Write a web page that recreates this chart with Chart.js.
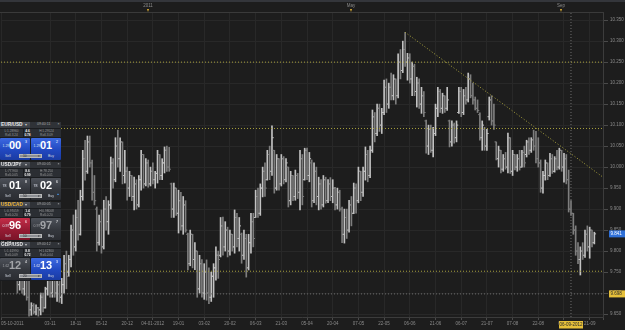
<!DOCTYPE html>
<html>
<head>
<meta charset="utf-8">
<script src="https://cdn.jsdelivr.net/npm/chart.js@4.4.1/dist/chart.umd.min.js"></script>
<style>
html, body { margin: 0; padding: 0; background: #1d1d1d; }
#wrap { position: relative; width: 625px; height: 330px; overflow: hidden; background: #1d1d1d; font-family: "Liberation Sans", Arial, sans-serif; }
#box { position: absolute; left: 0; top: 0; width: 625px; height: 330px; }
.strip { position: absolute; left: 0; top: 0; width: 625px; height: 2px; background: #34363b; }
.rule { position: absolute; left: 0; top: 12px; width: 604px; height: 1px; background: #3a3a3a; }
.tlab { position: absolute; top: 3px; font-size: 4.5px; line-height: 5px; color: #8a8a8a; transform: translateX(-50%); }
.tri { position: absolute; top: 9px; width: 0; height: 0; border-left: 1.6px solid transparent; border-right: 1.6px solid transparent; border-top: 3px solid #e2b232; transform: translateX(-50%); }

.w { position: absolute; left: 0; width: 61px; height: 39px; background: #1a1c1f; overflow: hidden; }
.hd { position: absolute; left: 0; top: 0; width: 61px; height: 6.5px; background: linear-gradient(#51555d, #383b41); }
.nm { position: absolute; left: 1px; top: 0; font-size: 4.8px; line-height: 6.5px; color: #e6e6e6; font-weight: bold; }
.dd { position: absolute; left: 24.5px; top: 0; font-size: 4px; line-height: 6.5px; color: #c8c8c8; }
.tm { position: absolute; left: 30px; top: 0.5px; width: 30.5px; height: 5.5px; background: #2f3237; font-size: 3.5px; line-height: 5.5px; color: #a8a8a8; text-indent: 7px; }
.tm i { position: absolute; right: 1px; top: 0; font-style: normal; color: #c0c0c0; }
.r { position: absolute; left: 0; width: 61px; height: 4.2px; font-size: 3.2px; line-height: 4.2px; color: #9a9a9a; }
.r span { position: absolute; top: 0; height: 100%; background: #2b2e33; text-align: center; }
.r .c1 { left: 0; width: 23px; }
.r .c2 { left: 23.5px; width: 8px; color: #f0f0f0; font-weight: bold; }
.r .c3 { left: 32px; width: 29px; }
.r1 { top: 7px; }
.r2 { top: 11.6px; }
.b { position: absolute; top: 16.5px; height: 22px; width: 29.8px; border-radius: 1px; }
.bl { left: 0; }
.br { left: 31px; }
.blue { background: linear-gradient(#3d6ae2, #2148c0 55%, #1a3ba2); }
.gray { background: linear-gradient(#4d5159, #34373d 55%, #2b2d32); }
.red { background: linear-gradient(#c42d48, #951b33 55%, #7a1428); }
.p { position: absolute; left: 2.5px; top: 6px; font-size: 3.5px; line-height: 4px; color: #dfe3ee; }
.n { position: absolute; left: 9px; top: 1.5px; font-size: 11px; line-height: 11px; font-weight: bold; color: #ffffff; }
.dim .n { color: #a2a4a8; }
.dim .p { color: #a2a4a8; }
.e { position: absolute; left: 25px; top: 2px; font-size: 3.5px; line-height: 4px; color: #ffffff; }
.s { position: absolute; top: 15.5px; font-size: 3.5px; line-height: 4px; color: #cfd4de; }
.bl .s { left: 5px; }
.br .s { left: 17px; }
.q { position: absolute; left: 19px; top: 32px; width: 23px; height: 4.5px; background: #8c8f94; border: 0.5px solid #b8b8b8; box-sizing: border-box; font-size: 3.3px; line-height: 3.8px; color: #2a2a2a; text-indent: 3px; }
.q i { position: absolute; right: 1.5px; top: 0; font-style: normal; }
.up { position: absolute; left: 25.5px; top: 14px; font-size: 3px; color: #4aa0ff; }
</style>
</head>
<body>
<div id="wrap">
  <div id="box"><canvas id="makeChart"></canvas></div>

  <div class="strip"></div>
  <div class="rule"></div>
  <div class="tlab" style="left:148px">2011</div>
  <div class="tlab" style="left:351px">May</div>
  <div class="tlab" style="left:561px">Sep</div>
  <div class="tri" style="left:148px"></div>
  <div class="tri" style="left:351px"></div>
  <div class="tri" style="left:561px"></div>

  <div class="w" style="top:121.5px">
    <div class="hd"><span class="nm">EUR/USD</span><span class="dd">▾</span><div class="tm">09:40:11<i>×</i></div></div>
    <div class="r r1"><span class="c1">L:1.28960</span><span class="c2">4.6</span><span class="c3">H:1.29524</span></div>
    <div class="r r2"><span class="c1">Roll-3.24</span><span class="c2">0.78</span><span class="c3">Roll-3.09</span></div>
    <div class="b bl blue"><span class="p">1.29</span><span class="n">00</span><span class="e">3</span><span class="s">Sell</span></div>
    <div class="b br blue"><span class="p">1.29</span><span class="n">01</span><span class="e">2</span><span class="s">Buy</span></div>
    <div class="q">10<i>▾</i></div>
  </div>

  <div class="w" style="top:161.5px">
    <div class="hd"><span class="nm">USD/JPY</span><span class="dd">▾</span><div class="tm">09:40:05<i>×</i></div></div>
    <div class="r r1"><span class="c1">L:77.960</span><span class="c2">8.6</span><span class="c3">H:78.250</span></div>
    <div class="r r2"><span class="c1">Roll-0.05</span><span class="c2">0.99</span><span class="c3">Roll-0.01</span></div>
    <div class="b bl gray"><span class="p">78</span><span class="n">01</span><span class="e">8</span><span class="s">Sell</span></div>
    <div class="b br gray"><span class="p">78</span><span class="n">02</span><span class="e">6</span><span class="up">▲</span><span class="s">Buy</span></div>
    <div class="q">50<i>▾</i></div>
  </div>

  <div class="w" style="top:201.5px">
    <div class="hd"><span class="nm" style="color:#f0b232">USD/CAD</span><span class="dd">▾</span><div class="tm">09:40:05<i>×</i></div></div>
    <div class="r r1"><span class="c1">L:0.97059</span><span class="c2">1.4</span><span class="c3">H:0.98008</span></div>
    <div class="r r2"><span class="c1">Roll-0.20</span><span class="c2">0.79</span><span class="c3">Roll-0.20</span></div>
    <div class="b bl red"><span class="p">0.97</span><span class="n">96</span><span class="e">6</span><span class="s">Sell</span></div>
    <div class="b br gray dim"><span class="p">0.97</span><span class="n">97</span><span class="e">7</span><span class="s">Buy</span></div>
    <div class="q">10<i>▾</i></div>
  </div>

  <div class="w" style="top:241.5px">
    <div class="hd"><span class="nm">GBP/USD</span><span class="dd">▾</span><div class="tm">09:40:12<i>×</i></div></div>
    <div class="r r1"><span class="c1">L:1.61990</span><span class="c2">8.8</span><span class="c3">H:1.62360</span></div>
    <div class="r r2"><span class="c1">Roll-0.09</span><span class="c2">0.72</span><span class="c3">Roll-0.04</span></div>
    <div class="b bl gray dim"><span class="p">1.62</span><span class="n">12</span><span class="e">4</span><span class="s">Sell</span></div>
    <div class="b br blue"><span class="p">1.62</span><span class="n">13</span><span class="e">3</span><span class="s">Buy</span></div>
    <div class="q">20<i>▾</i></div>
  </div>
</div>

<script>
// daily bars, 05-10-2011 .. 21-09-2012
const opens = [
  9.83, 9.81, 9.79, 9.80, 9.79, 9.77, 9.75, 9.76, 9.72, 9.75,
  9.71, 9.73, 9.69, 9.66, 9.67, 9.655, 9.665, 9.66, 9.69, 9.665,
  9.71, 9.73, 9.70, 9.74, 9.70, 9.72, 9.69, 9.72, 9.77, 9.75,
  9.78, 9.85, 9.81, 9.88, 9.84, 9.93, 10.02, 9.99, 10.06, 10.01,
  9.94, 9.90, 9.82, 9.87, 9.81, 9.90, 9.87, 9.91, 10.01, 9.97,
  10.05, 10.02, 10.06, 9.98, 9.99, 9.95, 9.98, 9.93, 9.96, 9.91,
  9.97, 10.03, 9.96, 10.01, 9.96, 9.99, 9.97, 9.985, 10.03, 9.98,
  10.01, 10.04, 10.00, 9.96, 9.90, 9.95, 9.89, 9.92, 9.86, 9.91,
  9.84, 9.77, 9.84, 9.78, 9.80, 9.71, 9.77, 9.70, 9.75, 9.70,
  9.69, 9.74, 9.76, 9.79, 9.79, 9.86, 9.81, 9.85, 9.80, 9.84,
  9.81, 9.88, 9.83, 9.84, 9.79, 9.83, 9.76, 9.82, 9.87, 9.88,
  9.93, 9.89, 9.95, 9.99, 9.97, 10.03, 9.99, 10.04, 9.95, 10.02,
  9.96, 10.02, 9.97, 10.00, 9.92, 9.98, 9.93, 9.98, 9.94, 10.02,
  9.97, 10.04, 9.98, 10.01, 9.92, 9.99, 9.93, 9.96, 9.91, 9.97,
  9.92, 9.96, 9.93, 9.95, 9.91, 9.94, 9.90, 9.84, 9.88, 9.85,
  9.91, 9.89, 9.95, 9.92, 9.99, 9.94, 9.99, 10.03, 9.98, 10.04,
  10.12, 10.08, 10.14, 10.10, 10.13, 10.19, 10.15, 10.19, 10.17, 10.21,
  10.17, 10.25, 10.23, 10.28, 10.25, 10.26, 10.21, 10.24, 10.18, 10.20,
  10.15, 10.17, 10.11, 10.05, 10.09, 10.04, 10.08, 10.14, 10.18, 10.14,
  10.17, 10.14, 10.11, 10.06, 10.10, 10.07, 10.13, 10.18, 10.13, 10.17,
  10.16, 10.21, 10.17, 10.16, 10.14, 10.125, 10.07, 10.09, 10.05, 10.12,
  10.16, 10.11, 10.06, 10.02, 10.04, 9.995, 10.02, 10.00, 10.07, 9.99,
  10.03, 10.00, 10.02, 10.00, 10.035, 10.03, 10.06, 10.04, 10.065, 10.05,
  10.02, 10.01, 9.95, 9.98, 10.01, 9.98, 10.02, 9.99, 10.02, 10.00,
  10.04, 10.00, 10.02, 9.97, 9.90, 9.89, 9.85, 9.80, 9.78, 9.80,
  9.79, 9.84, 9.81, 9.85, 9.82
];
const highs = [
  9.86, 9.84, 9.82, 9.84, 9.83, 9.80, 9.79, 9.76, 9.77, 9.76,
  9.75, 9.74, 9.73, 9.677, 9.675, 9.672, 9.666, 9.70, 9.70, 9.714,
  9.74, 9.75, 9.76, 9.75, 9.74, 9.73, 9.735, 9.79, 9.80, 9.79,
  9.862, 9.886, 9.898, 9.921, 9.945, 10.04, 10.064, 10.074, 10.074, 10.017,
  9.98, 9.905, 9.886, 9.898, 9.921, 9.93, 9.92, 10.024, 10.02, 10.07,
  10.088, 10.07, 10.06, 10.04, 10.00, 9.99, 9.98, 9.976, 9.97, 9.98,
  10.04, 10.03, 10.02, 10.017, 10.00, 10.01, 9.99, 10.04, 10.03, 10.02,
  10.048, 10.05, 10.047, 9.962, 9.962, 9.95, 9.945, 9.94, 9.93, 9.92,
  9.843, 9.85, 9.84, 9.82, 9.80, 9.79, 9.78, 9.77, 9.779, 9.76,
  9.75, 9.77, 9.81, 9.80, 9.88, 9.881, 9.87, 9.857, 9.85, 9.84,
  9.898, 9.89, 9.88, 9.843, 9.85, 9.84, 9.84, 9.89, 9.89, 9.945,
  9.95, 9.96, 10.00, 10.01, 10.04, 10.05, 10.098, 10.04, 10.03, 10.02,
  10.03, 10.025, 10.02, 10.00, 9.99, 9.98, 9.993, 9.985, 10.04, 10.03,
  10.045, 10.045, 10.035, 10.017, 10.01, 10.00, 9.976, 9.97, 9.98, 9.976,
  9.97, 9.975, 9.97, 9.952, 9.95, 9.945, 9.905, 9.90, 9.90, 9.921,
  9.93, 9.962, 9.96, 10.00, 9.99, 10.00, 10.048, 10.04, 10.05, 10.136,
  10.13, 10.15, 10.15, 10.14, 10.207, 10.21, 10.20, 10.224, 10.22, 10.21,
  10.27, 10.28, 10.30, 10.321, 10.271, 10.27, 10.25, 10.245, 10.214, 10.21,
  10.19, 10.18, 10.112, 10.10, 10.10, 10.095, 10.15, 10.19, 10.185, 10.176,
  10.17, 10.19, 10.112, 10.11, 10.105, 10.11, 10.19, 10.19, 10.185, 10.19,
  10.224, 10.22, 10.20, 10.167, 10.16, 10.129, 10.11, 10.095, 10.09, 10.167,
  10.17, 10.15, 10.06, 10.05, 10.04, 10.03, 10.035, 10.081, 10.07, 10.04,
  10.03, 10.03, 10.04, 10.04, 10.05, 10.064, 10.07, 10.07, 10.088, 10.085,
  10.07, 10.017, 9.99, 10.017, 10.01, 10.033, 10.03, 10.025, 10.04, 10.045,
  10.04, 10.033, 10.03, 9.993, 9.92, 9.89, 9.86, 9.82, 9.81, 9.82,
  9.85, 9.86, 9.857, 9.85, 9.845
];
const lows = [
  9.80, 9.78, 9.77, 9.78, 9.76, 9.74, 9.73, 9.70, 9.707, 9.70,
  9.695, 9.683, 9.645, 9.647, 9.650, 9.648, 9.645, 9.648, 9.655, 9.664,
  9.695, 9.69, 9.69, 9.69, 9.68, 9.678, 9.675, 9.70, 9.71, 9.74,
  9.762, 9.79, 9.80, 9.826, 9.838, 9.921, 9.969, 9.985, 10.00, 9.921,
  9.91, 9.80, 9.814, 9.795, 9.805, 9.85, 9.84, 9.90, 9.95, 9.965,
  10.00, 9.99, 9.96, 9.962, 9.921, 9.93, 9.92, 9.898, 9.90, 9.905,
  9.945, 9.95, 9.955, 9.952, 9.955, 9.96, 9.95, 9.962, 9.97, 9.97,
  9.986, 9.99, 9.99, 9.88, 9.88, 9.885, 9.843, 9.85, 9.84, 9.845,
  9.755, 9.765, 9.76, 9.756, 9.69, 9.70, 9.69, 9.685, 9.683, 9.675,
  9.68, 9.69, 9.731, 9.735, 9.786, 9.79, 9.80, 9.786, 9.79, 9.80,
  9.795, 9.81, 9.80, 9.771, 9.78, 9.738, 9.755, 9.795, 9.81, 9.88,
  9.88, 9.885, 9.929, 9.93, 9.969, 9.97, 9.98, 9.938, 9.945, 9.945,
  9.955, 9.96, 9.965, 9.905, 9.91, 9.92, 9.921, 9.925, 9.898, 9.91,
  9.969, 9.97, 9.965, 9.905, 9.915, 9.91, 9.898, 9.90, 9.905, 9.914,
  9.915, 9.92, 9.915, 9.898, 9.90, 9.895, 9.82, 9.819, 9.83, 9.845,
  9.86, 9.889, 9.89, 9.915, 9.92, 9.93, 9.969, 9.965, 9.975, 10.035,
  10.06, 10.075, 10.085, 10.08, 10.125, 10.13, 10.14, 10.16, 10.16, 10.15,
  10.165, 10.21, 10.225, 10.24, 10.207, 10.20, 10.17, 10.17, 10.143, 10.14,
  10.128, 10.12, 10.033, 10.03, 10.035, 10.024, 10.075, 10.12, 10.13, 10.128,
  10.13, 10.135, 10.048, 10.05, 10.057, 10.06, 10.128, 10.12, 10.125, 10.15,
  10.155, 10.165, 10.15, 10.136, 10.13, 10.064, 10.04, 10.04, 10.04, 10.112,
  10.10, 10.09, 10.017, 10.00, 9.986, 9.99, 9.995, 9.986, 9.985, 9.98,
  9.993, 9.99, 9.993, 10.00, 10.00, 10.024, 10.03, 10.035, 10.04, 10.01,
  10.00, 9.94, 9.938, 9.969, 9.97, 9.978, 9.985, 9.988, 9.993, 9.995,
  9.99, 9.964, 9.96, 9.893, 9.885, 9.84, 9.79, 9.77, 9.743, 9.78,
  9.785, 9.80, 9.783, 9.81, 9.817
];
const closes = [
  9.81, 9.79, 9.80, 9.79, 9.77, 9.75, 9.76, 9.72, 9.75, 9.71,
  9.73, 9.69, 9.66, 9.67, 9.655, 9.665, 9.66, 9.69, 9.665, 9.71,
  9.73, 9.70, 9.74, 9.70, 9.72, 9.69, 9.72, 9.77, 9.74, 9.78,
  9.85, 9.81, 9.88, 9.84, 9.93, 10.02, 9.99, 10.06, 10.01, 9.94,
  9.92, 9.82, 9.87, 9.81, 9.90, 9.87, 9.91, 10.01, 9.97, 10.05,
  10.02, 10.06, 9.98, 9.99, 9.95, 9.98, 9.93, 9.96, 9.91, 9.97,
  10.03, 9.96, 10.01, 9.96, 9.99, 9.97, 9.985, 10.03, 9.98, 10.01,
  10.04, 10.00, 9.995, 9.90, 9.95, 9.89, 9.92, 9.86, 9.91, 9.85,
  9.77, 9.84, 9.78, 9.80, 9.71, 9.77, 9.70, 9.75, 9.70, 9.69,
  9.74, 9.76, 9.79, 9.78, 9.86, 9.81, 9.85, 9.80, 9.84, 9.81,
  9.88, 9.83, 9.86, 9.79, 9.83, 9.76, 9.82, 9.87, 9.83, 9.93,
  9.89, 9.95, 9.99, 9.95, 10.03, 9.99, 10.07, 9.95, 10.02, 9.96,
  10.02, 9.97, 10.01, 9.92, 9.98, 9.93, 9.98, 9.94, 10.02, 9.93,
  10.04, 9.98, 10.02, 9.92, 9.99, 9.93, 9.96, 9.91, 9.97, 9.92,
  9.96, 9.93, 9.95, 9.91, 9.94, 9.90, 9.84, 9.88, 9.85, 9.91,
  9.89, 9.95, 9.92, 9.99, 9.94, 9.99, 10.03, 9.98, 10.04, 10.12,
  10.08, 10.14, 10.10, 10.13, 10.19, 10.15, 10.19, 10.17, 10.21, 10.17,
  10.25, 10.23, 10.28, 10.25, 10.26, 10.21, 10.24, 10.18, 10.20, 10.15,
  10.17, 10.13, 10.05, 10.09, 10.04, 10.08, 10.14, 10.18, 10.14, 10.17,
  10.14, 10.16, 10.06, 10.10, 10.07, 10.10, 10.18, 10.13, 10.17, 10.16,
  10.21, 10.17, 10.16, 10.14, 10.135, 10.07, 10.10, 10.05, 10.08, 10.16,
  10.11, 10.10, 10.02, 10.04, 9.995, 10.02, 10.00, 10.07, 9.99, 10.03,
  10.00, 10.02, 10.00, 10.035, 10.01, 10.06, 10.04, 10.065, 10.05, 10.02,
  10.01, 9.95, 9.98, 10.01, 9.98, 10.02, 9.99, 10.02, 10.00, 10.04,
  10.00, 10.02, 9.97, 9.90, 9.89, 9.85, 9.80, 9.78, 9.80, 9.79,
  9.84, 9.81, 9.85, 9.82, 9.841
];

// date ticks (bar index -> label)
const tickIdx = [0, 21, 32, 43, 54, 65, 76, 87, 98, 109, 120, 131, 142, 153, 164, 175, 186, 197, 208, 219, 230, 241, 252, 257.7];
const tickLabels = ['05-10-2011', '03-11', '18-11', '05-12', '20-12', '04-01-2012', '19-01', '03-02', '20-02', '06-03', '21-03', '05-04',
  '20-04', '07-05', '22-05', '06-06', '21-06', '06-07', '21-07', '07-08', '22-08', '06-09', '21-09', ''];

// drawn studies
const levels = [10.250, 10.092, 9.752];
const trendFrom = [173, 10.321];
const trendTo = [257.7, 9.976];
const lastPrice = 9.841;
const crossIdx = 244;
const crossPrice = 9.698;
const crossDate = '06-09-2012';

const xMax = 257.7, yMin = 9.643, yMax = 10.367;
const upColor = '#c2c2c2', downColor = '#7e7e7e';
const dotYellow = '#a9a23e';

const barColor = opens.map((o, i) => closes[i] >= o ? upColor : downColor);

const levelSets = levels.map(v => ({
    type: 'line',
    data: [{ x: 0, y: v }, { x: xMax, y: v }],
    borderColor: dotYellow,
    borderWidth: 1,
    borderDash: [1, 2],
    pointRadius: 0,
    showLine: true
}));

const tagPlugin = {
    id: 'tags',
    afterDraw(chart) {
        const { ctx, chartArea, scales } = chart;
        const ys = scales.y, xs = scales.x;
        ctx.save();
        ctx.font = '4.5px "Liberation Sans"';
        ctx.textBaseline = 'middle';
        const tag = (v, bg, fg) => {
            const py = ys.getPixelForValue(v);
            ctx.fillStyle = bg;
            ctx.fillRect(chartArea.right + 6, py - 3.5, 16, 7);
            ctx.fillStyle = fg;
            ctx.textAlign = 'left';
            ctx.fillText(v.toFixed(3), chartArea.right + 7.5, py + 0.3);
        };
        tag(lastPrice, '#2f70d8', '#ffffff');
        tag(crossPrice, '#e6c03a', '#2a2a2a');
        const px = xs.getPixelForValue(crossIdx);
        ctx.fillStyle = '#e6c03a';
        ctx.fillRect(px - 12, chartArea.bottom + 4, 24, 7.5);
        ctx.fillStyle = '#2a2a2a';
        ctx.textAlign = 'center';
        ctx.fillText(crossDate, px, chartArea.bottom + 8);
        ctx.restore();
    }
};

const canvasChart = document.getElementById('makeChart');
const myChart = new Chart(canvasChart, {
    type: 'scatter',
    data: {
        datasets: [
            ...levelSets,
            {
                type: 'line',
                data: [{ x: trendFrom[0], y: trendFrom[1] }, { x: trendTo[0], y: trendTo[1] }],
                borderColor: dotYellow,
                borderWidth: 1,
                borderDash: [1, 2],
                pointRadius: 0,
                showLine: true
            },
            {
                type: 'line',
                data: [{ x: 0, y: crossPrice }, { x: xMax, y: crossPrice }],
                borderColor: '#6e6e6e',
                borderWidth: 1,
                borderDash: [1, 2],
                pointRadius: 0,
                showLine: true
            },
            {
                type: 'line',
                data: [{ x: crossIdx, y: yMin }, { x: crossIdx, y: yMax }],
                borderColor: '#6e6e6e',
                borderWidth: 1,
                borderDash: [1, 2],
                pointRadius: 0,
                showLine: true
            },
            {
                type: 'scatter',
                data: opens.map((o, i) => ({ x: i - 0.4, y: o })),
                pointStyle: 'line',
                pointRadius: 0.8,
                pointBorderWidth: 1,
                pointBorderColor: ctx => barColor[ctx.dataIndex],
                pointBackgroundColor: ctx => barColor[ctx.dataIndex]
            },
            {
                type: 'scatter',
                data: closes.map((c, i) => ({ x: i + 0.4, y: c })),
                pointStyle: 'line',
                pointRadius: 0.8,
                pointBorderWidth: 1,
                pointBorderColor: ctx => barColor[ctx.dataIndex],
                pointBackgroundColor: ctx => barColor[ctx.dataIndex]
            },
            {
                type: 'bar',
                data: lows.map((l, i) => ({ x: i, y: [l, highs[i]] })),
                backgroundColor: barColor,
                barThickness: 1,
                borderWidth: 0,
                grouped: false
            }
        ]
    },
    options: {
        responsive: true,
        maintainAspectRatio: false,
        animation: false,
        events: [],
        layout: { autoPadding: false, padding: { top: 13, left: 0, right: 0, bottom: 0 } },
        plugins: { legend: { display: false }, tooltip: { enabled: false } },
        scales: {
            x: {
                type: 'linear',
                position: 'bottom',
                min: 0,
                max: xMax,
                offset: false,
                afterBuildTicks: scale => { scale.ticks = tickIdx.map(v => ({ value: v })); },
                afterFit: scale => { scale.height = 13; },
                grid: { color: '#282828', tickColor: '#4a4a4a', tickLength: 3, offset: false },
                border: { color: '#3c3c3c' },
                ticks: {
                    autoSkip: false,
                    maxRotation: 0,
                    align: 'inner',
                    padding: 1,
                    color: '#8a8a8a',
                    font: { family: 'Liberation Sans', size: 4.5 },
                    callback: (v, i) => tickLabels[i]
                }
            },
            y: {
                type: 'linear',
                position: 'right',
                min: yMin,
                max: yMax,
                afterFit: scale => { scale.width = 22; },
                grid: { color: '#282828', tickColor: '#4a4a4a', tickLength: 5 },
                border: { color: '#3c3c3c' },
                ticks: {
                    stepSize: 0.05,
                    includeBounds: false,
                    autoSkip: false,
                    padding: 2,
                    color: '#8a8a8a',
                    font: { family: 'Liberation Sans', size: 4.5 },
                    callback: v => v.toFixed(3)
                }
            }
        }
    },
    plugins: [tagPlugin]
});
</script>
</body>
</html>
